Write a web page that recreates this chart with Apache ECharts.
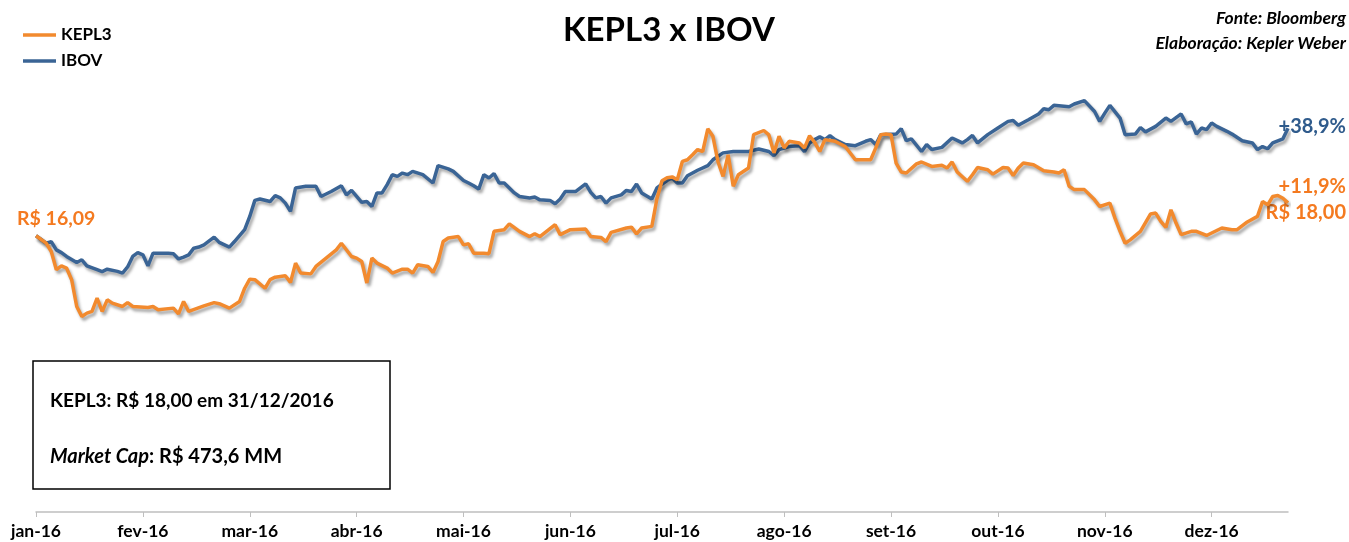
<!DOCTYPE html>
<html>
<head>
<meta charset="utf-8">
<title>KEPL3 x IBOV</title>
<script src="https://cdn.jsdelivr.net/npm/echarts@6/dist/echarts.min.js"></script>
<style>
  html, body { margin: 0; padding: 0; background: #fff; }
  #main { width: 1349px; height: 542px; }
</style>
</head>
<body>
<div id="main"></div>
<script>
// rótulos do eixo x (um a cada 21 pregões)
var meses = ['jan-16', 'fev-16', 'mar-16', 'abr-16', 'mai-16', 'jun-16',
  'jul-16', 'ago-16', 'set-16', 'out-16', 'nov-16', 'dez-16'];
var totalPregoes = 247;
var pregoesPorRotulo = 21;

// base 100 em 30/12/2015: [pregão, índice]
var kepl3 = [[0,100],[2,97.3],[3,94.3],[4,87.7],[5,89.1],[6,88.3],[7,84.1],[8,74.4],[9,70.8],[10,72.0],[11,72.6],[12,77.4],[13,72.6],[14,76.8],[15,75.6],[17,74.4],[18,75.8],[19,74.4],[22,74.0],[23,74.4],[24,73.2],[27,73.8],[28,71.7],[29,76.2],[30,72.6],[33,74.6],[35,75.8],[36,75.4],[38,73.8],[40,76.2],[41,81.0],[42,84.3],[43,84.1],[45,81.0],[46,84.1],[47,85.0],[49,85.5],[50,83.1],[51,90.1],[52,86.5],[54,86.2],[55,88.9],[57,91.9],[59,94.9],[60,97.3],[62,92.5],[63,91.9],[64,90.7],[65,82.9],[66,91.9],[67,90.1],[69,88.3],[70,86.5],[72,87.9],[73,87.9],[74,86.5],[75,89.5],[77,88.9],[78,86.7],[79,90.7],[80,97.9],[81,99.2],[83,99.7],[84,96.7],[85,97.1],[86,93.7],[88,93.7],[89,93.5],[90,101.6],[92,102.2],[93,104.3],[95,101.6],[97,99.7],[98,100.7],[99,99.7],[102,104.0],[103,100.4],[105,102.2],[108,102.4],[109,99.7],[111,99.4],[112,97.9],[113,101.2],[116,102.8],[117,103.1],[118,100.7],[119,102.8],[121,103.4],[122,113.4],[123,119.9],[124,121.0],[125,121.3],[126,120.3],[127,126.9],[128,127.5],[129,129.3],[130,131.2],[131,130.5],[132,138.7],[133,136.0],[134,126.8],[135,121.5],[136,129.3],[137,117.9],[138,122.1],[140,124.5],[141,136.6],[143,138.1],[144,136.5],[145,130.0],[146,136.0],[147,131.8],[148,134.2],[150,133.6],[151,131.8],[152,136.2],[153,133.8],[154,130.5],[155,134.8],[157,134.2],[159,132.3],[161,127.5],[164,127.5],[165,131.8],[166,136.6],[167,136.8],[168,136.6],[169,126.3],[170,123.1],[171,122.7],[173,126.0],[174,126.7],[176,125.1],[178,125.5],[179,124.5],[180,126.7],[181,123.1],[183,119.7],[184,122.1],[185,124.7],[187,123.9],[188,122.3],[190,124.7],[191,124.5],[192,121.8],[193,124.5],[194,126.3],[196,125.7],[198,123.5],[200,123.1],[201,122.7],[202,123.9],[203,117.9],[204,116.7],[206,116.7],[208,113.0],[209,110.6],[211,111.8],[212,106.4],[213,101.6],[214,97.3],[215,98.5],[217,101.6],[219,107.9],[220,108.2],[221,105.2],[222,103.0],[223,109.4],[224,104.6],[225,100.4],[227,101.6],[228,101.6],[230,100.1],[233,102.8],[235,102.2],[236,102.2],[238,105.0],[240,107.0],[241,112.4],[242,111.2],[243,114.2],[244,114.6],[245,113.6],[246,111.9]];

var ibov = [[0,100],[2,97.3],[3,97.9],[4,94.9],[5,93.9],[6,92.5],[8,90.3],[9,91.3],[10,89.1],[12,87.7],[13,87.0],[14,87.9],[16,87.1],[17,86.5],[18,88.7],[19,92.5],[20,93.9],[21,93.1],[22,89.1],[23,93.7],[26,93.7],[27,93.5],[28,91.6],[29,92.3],[30,93.1],[31,95.5],[32,95.9],[33,96.7],[35,99.5],[36,97.6],[38,95.9],[39,97.9],[41,102.2],[42,107.0],[43,112.8],[44,113.3],[46,112.4],[47,114.5],[48,113.7],[49,111.8],[50,108.8],[51,117.3],[53,117.9],[55,117.9],[56,114.2],[58,116.0],[60,118.1],[61,114.8],[62,116.4],[64,112.1],[65,112.4],[66,110.6],[67,115.5],[68,115.5],[69,118.5],[70,122.1],[71,121.5],[72,122.7],[73,122.1],[74,123.3],[76,122.1],[78,119.1],[79,125.4],[81,124.2],[82,123.3],[84,120.0],[85,119.1],[86,118.1],[87,116.9],[88,122.1],[89,120.9],[90,122.5],[91,119.1],[92,119.1],[93,117.3],[94,115.5],[95,114.2],[97,113.7],[98,114.0],[99,113.0],[101,112.8],[102,111.6],[103,113.3],[104,116.0],[106,116.0],[108,118.8],[109,115.7],[110,113.7],[111,114.2],[112,111.8],[113,113.7],[115,114.8],[116,116.4],[117,116.0],[118,118.7],[119,115.5],[121,113.3],[122,117.3],[124,120.0],[125,120.9],[126,119.1],[127,119.1],[128,121.7],[130,123.7],[132,125.4],[133,127.5],[135,130.0],[137,130.5],[140,130.5],[142,131.4],[144,130.5],[145,129.0],[146,131.2],[148,132.3],[150,132.6],[151,130.5],[152,133.6],[153,134.8],[154,135.8],[155,134.8],[156,136.2],[157,134.8],[159,133.0],[161,132.6],[163,134.2],[164,134.8],[165,133.0],[166,136.6],[169,136.8],[170,138.8],[171,134.4],[172,135.1],[174,130.5],[175,133.0],[176,131.2],[178,132.0],[180,135.4],[182,133.6],[183,134.8],[184,136.3],[185,133.6],[187,136.6],[189,139.0],[191,141.4],[192,141.7],[193,140.0],[195,142.0],[197,144.1],[198,146.0],[199,145.6],[200,147.2],[203,146.7],[204,147.7],[206,148.9],[208,145.0],[209,141.4],[210,144.4],[211,147.2],[213,142.6],[214,136.6],[216,136.8],[217,139.2],[218,137.6],[220,139.6],[222,142.6],[223,141.4],[225,144.1],[226,140.5],[227,141.2],[228,136.8],[229,139.0],[230,138.4],[231,140.8],[232,139.6],[234,137.8],[235,136.8],[237,134.4],[239,133.6],[240,131.2],[241,132.3],[242,131.5],[243,133.6],[245,135.1],[246,138.9]];

var corKepl = '#F28A2E';
var corIbov = '#3A6495';
var fonte = 'Lato';

var categorias = [];
for (var i = 0; i < totalPregoes; i++) {
  categorias.push(i % pregoesPorRotulo === 0 ? meses[i / pregoesPorRotulo] : '');
}

var sombra = {
  shadowColor: 'rgba(0,0,0,0.35)',
  shadowBlur: 3,
  shadowOffsetX: 2,
  shadowOffsetY: 3
};

// texto solto (fonte, rótulos de variação, quadro)
function texto(x, y, txt, fonteCss, cor, alinhamento) {
  return {
    type: 'text', x: x, y: y,
    style: { text: txt, font: fonteCss, fill: cor, align: alinhamento || 'left', verticalAlign: 'middle' }
  };
}

var myChart = echarts.init(document.getElementById('main'));
myChart.setOption({
  animation: false,
  textStyle: { fontFamily: fonte },
  title: {
    text: 'KEPL3 x IBOV',
    left: 558,
    top: 9,
    textStyle: { fontFamily: fonte, fontSize: 33, fontWeight: 'bold', color: '#000' }
  },
  legend: {
    orient: 'vertical',
    left: 18,
    top: 20,
    icon: 'rect',
    itemWidth: 33,
    itemHeight: 3.5,
    itemGap: 6,
    data: ['KEPL3', 'IBOV'],
    textStyle: { fontFamily: fonte, fontSize: 17, fontWeight: 'bold', color: '#000', lineHeight: 20 }
  },
  grid: { left: 36, right: 61, top: 70, bottom: 30 },
  xAxis: {
    type: 'category',
    data: categorias,
    boundaryGap: false,
    axisLine: { lineStyle: { color: '#BFBFBF', width: 1.5 } },
    axisTick: { interval: pregoesPorRotulo - 1, length: 5, lineStyle: { color: '#BFBFBF' } },
    axisLabel: {
      interval: pregoesPorRotulo - 1,
      margin: 10,
      fontFamily: fonte,
      fontSize: 17.5,
      fontWeight: 'bold',
      color: '#000'
    }
  },
  yAxis: { type: 'value', min: 0, max: 160, show: false },
  series: [
    {
      name: 'IBOV',
      type: 'line',
      data: ibov,
      symbol: 'none',
      color: corIbov,
      lineStyle: Object.assign({ width: 3.5, color: corIbov }, sombra)
    },
    {
      name: 'KEPL3',
      type: 'line',
      data: kepl3,
      symbol: 'none',
      color: corKepl,
      lineStyle: Object.assign({ width: 3.5, color: corKepl }, sombra)
    }
  ],
  graphic: [
    texto(1346, 18, 'Fonte: Bloomberg', 'italic bold 17.5px ' + fonte, '#000', 'right'),
    texto(1346, 43, 'Elaboração: Kepler Weber', 'italic bold 17.5px ' + fonte, '#000', 'right'),
    texto(17, 219, 'R$ 16,09', 'bold 19.5px ' + fonte, '#F47A20'),
    texto(1346, 127, '+38,9%', 'bold 20px ' + fonte, '#2F5B8C', 'right'),
    texto(1346, 187, '+11,9%', 'bold 20px ' + fonte, '#F47A20', 'right'),
    texto(1346, 213, 'R$ 18,00', 'bold 20px ' + fonte, '#F47A20', 'right'),
    { type: 'rect', shape: { x: 33, y: 361, width: 357, height: 128 },
      style: { fill: '#fff', stroke: '#000', lineWidth: 1.5 } },
    texto(50, 401, 'KEPL3: R$ 18,00 em 31/12/2016', 'bold 19px ' + fonte, '#000'),
    { type: 'text', x: 50, y: 457,
      style: {
        text: '{i|Market Cap}{b|: R$ 473,6 MM}',
        verticalAlign: 'middle',
        rich: {
          i: { fontFamily: fonte, fontSize: 20, fontWeight: 'bold', fontStyle: 'italic', fill: '#000' },
          b: { fontFamily: fonte, fontSize: 20, fontWeight: 'bold', fill: '#000' }
        }
      } }
  ]
});
</script>
</body>
</html>
